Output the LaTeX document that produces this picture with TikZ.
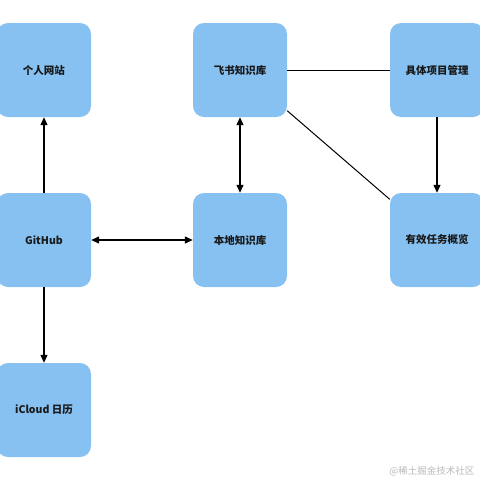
\documentclass[tikz,border=0pt]{standalone}
\usepackage{fontspec}
\usepackage{xcolor}
\newfontfamily\cjk{Noto Sans CJK SC}
\usetikzlibrary{arrows, arrows.meta}
\definecolor{boxblue}{HTML}{86C1F2}
\tikzset{
  box/.style={fill=boxblue, draw=none, rounded corners=11pt, minimum width=94pt, minimum height=94pt, inner sep=0pt, font=\cjk\bfseries\fontsize{10.5}{12}\selectfont, text=black!90},
  link/.style={line width=1.3pt, black},
  tip/.style={-{Triangle[length=8pt,width=7pt]}},
  tips/.style={{Triangle[length=8pt,width=7pt]}-{Triangle[length=8pt,width=7pt]}}
}

\begin{document}
\begin{tikzpicture}[x=1pt,y=-1pt]
\useasboundingbox (0,0) rectangle (480,480);
\node[box] (site) at (44,70) {个人网站};
\node[box] (feishu) at (240,70) {飞书知识库};
\node[box] (project) at (437,70) {具体项目管理};
\node[box] (github) at (44,240) {GitHub};
\node[box] (local) at (240,240) {本地知识库};
\node[box] (overview) at (437,240) {有效任务概览};
\node[box] (icloud) at (44,410) {iCloud 日历};
\draw[link,tip] (github) -- (site);
\draw[link,tip] (github) -- (icloud);
\draw[link,tips] (github) -- (local);
\draw[link,tips] (feishu) -- (local);
\draw[link,tip] (project) -- (overview);
\draw[line width=1pt] (feishu) -- (project);
\draw[line width=1pt] (feishu) -- (overview);
\node[text=gray!55, font=\cjk\fontsize{9.5}{11}\selectfont, anchor=east] (mark) at (478,471) {@稀土掘金技术社区};
\end{tikzpicture}
\end{document}
